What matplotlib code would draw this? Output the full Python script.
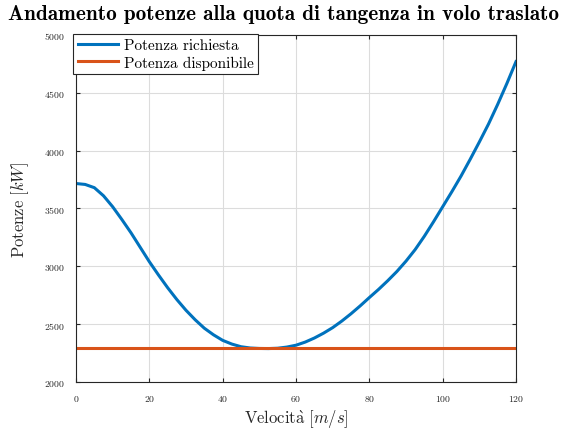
import matplotlib
matplotlib.use("Agg")
import matplotlib.pyplot as plt

# Data
velocita = [0, 2.5, 5, 7.5, 10, 12.5, 15, 17.5, 20, 22.5, 25, 27.5, 30, 32.5, 35, 37.5,
            40, 42.5, 45, 47.5, 50, 52.5, 55, 57.5, 60, 62.5, 65, 67.5, 70, 72.5, 75, 77.5,
            80, 82.5, 85, 87.5, 90, 92.5, 95, 97.5, 100, 102.5, 105, 107.5, 110, 112.5,
            115, 117.5, 120]
potenza_richiesta = [3716, 3708, 3680, 3610, 3515, 3405, 3290, 3165, 3040, 2925, 2815, 2713,
                     2620, 2538, 2465, 2408, 2360, 2328, 2305, 2294, 2290, 2289, 2292, 2302,
                     2318, 2345, 2380, 2422, 2470, 2527, 2590, 2658, 2730, 2800, 2875, 2955,
                     3045, 3145, 3260, 3385, 3515, 3645, 3780, 3925, 4075, 4230, 4400, 4580, 4770]
potenza_disponibile = [2290] * len(velocita)

xticks = [0, 20, 40, 60, 80, 100, 120]
yticks = [2000, 2500, 3000, 3500, 4000, 4500, 5000]

plt.rcParams['font.family'] = 'serif'
plt.rcParams['font.serif'] = ['cmr10', 'DejaVu Serif']
plt.rcParams['mathtext.fontset'] = 'cm'
plt.rcParams['axes.formatter.use_mathtext'] = True

fig = plt.figure(figsize=(5.78, 4.35), dpi=100)
ax = fig.add_axes([76/578, 1-383/435, (516-76)/578, (383-36)/435])

ax.plot(velocita, potenza_richiesta, color='#0072BD', lw=2.2, label='Potenza richiesta')
ax.plot(velocita, potenza_disponibile, color='#D95319', lw=2.2, label='Potenza disponibile')

ax.set_xlim(0, 120)
ax.set_ylim(2000, 5000)
ax.set_xticks(xticks)
ax.set_yticks(yticks)
ax.grid(True, color='#dcdcdc', lw=0.8)
ax.set_axisbelow(True)
ax.tick_params(direction='in', top=True, right=True, labelsize=7, colors='#262626', length=3)
ax.tick_params(axis='x', pad=8)
ax.tick_params(axis='y', pad=8)
for s in ax.spines.values():
    s.set_color('#262626')
    s.set_linewidth(0.8)

ax.set_xlabel(r'$\mathrm{Velocit\grave{a}}\ [m/s]$', fontsize=12, color='#262626', labelpad=3)
ax.set_ylabel(r'$\mathrm{Potenze}\ [kW]$', fontsize=12, color='#262626', labelpad=9)
fig.text(8/578, 1-14/435, 'Andamento potenze alla quota di tangenza in volo traslato',
         fontfamily='cmb10', fontsize=15.3, ha='left', va='center', color='black')

leg = ax.legend(loc='upper left', borderaxespad=0, fancybox=False, edgecolor='#262626',
                framealpha=1, fontsize=11, handlelength=2.6, borderpad=0.3,
                labelspacing=0.2, handletextpad=0.4, bbox_to_anchor=(-0.006, 1.003))
leg.get_frame().set_linewidth(0.8)

fig.savefig('out.png', dpi=100)
